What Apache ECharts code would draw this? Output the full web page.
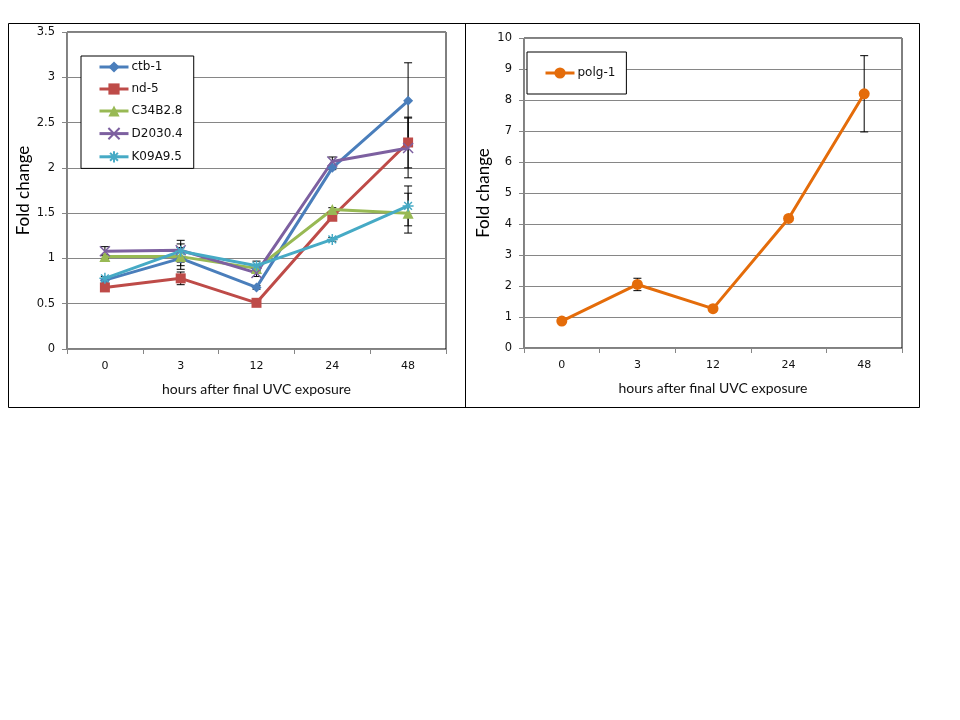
<!DOCTYPE html>
<html>
<head>
<meta charset="utf-8">
<script src="https://cdn.jsdelivr.net/npm/echarts@6/dist/echarts.min.js"></script>
<style>
html,body{margin:0;padding:0;background:#fff;}
#chart{width:960px;height:720px;}
</style>
</head>
<body>
<div id="chart"></div>
<script>
// ---- data ----
var categories = ['0', '3', '12', '24', '48'];
var xAxisTitle = 'hours after final UVC exposure';
var yAxisTitle = 'Fold change';

var ctb1 = [0.76, 1.00, 0.68, 2.00, 2.74];
var ctb1Err = [0.02, 0.12, 0.02, 0.02, 0.42];
var nd5 = [0.68, 0.78, 0.51, 1.46, 2.28];
var nd5Err = [0.02, 0.07, 0.02, 0.02, 0.28];
var c34b28 = [1.02, 1.02, 0.89, 1.54, 1.50];
var c34b28Err = [0.02, 0.10, 0.03, 0.02, 0.22];
var d20304 = [1.08, 1.09, 0.84, 2.07, 2.22];
var d20304Err = [0.05, 0.07, 0.04, 0.05, 0.33];
var k09a95 = [0.78, 1.08, 0.92, 1.21, 1.58];
var k09a95Err = [0.02, 0.12, 0.05, 0.02, 0.22];

var polg1 = [0.87, 2.05, 1.27, 4.18, 8.20];
var polg1Err = [0.02, 0.20, 0.02, 0.02, 1.23];

// ---- helpers ----
function errData(vals, errs) {
  return vals.map(function (v, i) { return [i, v - errs[i], v + errs[i]]; });
}
function renderErr(params, api) {
  var x = api.value(0);
  var lo = api.coord([x, api.value(1)]);
  var hi = api.coord([x, api.value(2)]);
  var w = 4;
  var st = { stroke: '#000', lineWidth: 1 };
  return {
    type: 'group',
    children: [
      { type: 'line', shape: { x1: lo[0], y1: lo[1], x2: hi[0], y2: hi[1] }, style: st },
      { type: 'line', shape: { x1: hi[0] - w, y1: hi[1], x2: hi[0] + w, y2: hi[1] }, style: st },
      { type: 'line', shape: { x1: lo[0] - w, y1: lo[1], x2: lo[0] + w, y2: lo[1] }, style: st }
    ]
  };
}
var X_PATH = 'path://M0,0L10,10M10,0L0,10';
var STAR_PATH = 'path://M5,0L5,10M0,5L10,5M1.5,1.5L8.5,8.5M8.5,1.5L1.5,8.5';

function lineSeries(name, data, color, symbol, size, gi, strokeOnly) {
  return {
    name: name, type: 'line', data: data,
    xAxisIndex: gi, yAxisIndex: gi,
    symbol: symbol, symbolSize: size, showSymbol: true,
    lineStyle: { color: color, width: 3 },
    itemStyle: strokeOnly ? { color: color, borderColor: color, borderWidth: 1.5 } : { color: color, borderWidth: 0 },
    z: 3, animation: false
  };
}
function errSeries(vals, errs, gi) {
  return {
    type: 'custom', xAxisIndex: gi, yAxisIndex: gi,
    data: errData(vals, errs), renderItem: renderErr, z: 2, silent: true, animation: false
  };
}

var gray = '#868686';
var labelFont = 'DejaVu Sans';
var titleFont = 'Lato';

function xAxis(gi) {
  return {
    gridIndex: gi, type: 'category', data: categories, boundaryGap: true,
    axisLine: { show: true, lineStyle: { color: gray, width: 1 } },
    axisTick: { show: true, alignWithLabel: false, length: 5, lineStyle: { color: gray } },
    axisLabel: { color: '#111', fontSize: 11, fontFamily: labelFont, margin: 12 },
    splitLine: { show: false },
    name: xAxisTitle, nameLocation: 'middle', nameGap: 33,
    nameTextStyle: { color: '#111', fontSize: 14, fontFamily: titleFont }
  };
}
function yAxis(gi, max, interval, gap) {
  return {
    gridIndex: gi, type: 'value', min: 0, max: max, interval: interval,
    axisLine: { show: true, lineStyle: { color: gray, width: 1 } },
    axisTick: { show: true, length: 5, lineStyle: { color: gray } },
    axisLabel: { color: '#111', fontSize: 11.5, fontFamily: labelFont, margin: 12 },
    splitLine: { show: true, lineStyle: { color: gray, width: 1 } },
    name: yAxisTitle, nameLocation: 'middle', nameGap: gap, nameRotate: 90,
    nameTextStyle: { color: '#000', fontSize: 17, fontFamily: titleFont }
  };
}

var colors = {
  ctb: '#4A7EBB', nd: '#BE4B48', c34: '#98B954', d20: '#7D60A0', k09: '#46AAC5', polg: '#E46C0A'
};

var option = {
  backgroundColor: '#fff',
  animation: false,
  graphic: [
    { type: 'rect', shape: { x: 8.5, y: 23.5, width: 911, height: 384 }, style: { fill: 'none', stroke: '#000', lineWidth: 1 }, silent: true },
    { type: 'line', shape: { x1: 465.5, y1: 23.5, x2: 465.5, y2: 407.5 }, style: { stroke: '#000', lineWidth: 1 }, silent: true }
  ],
  grid: [
    { left: 67, top: 32, width: 379, height: 317, show: true, borderColor: '#000', borderWidth: 1, backgroundColor: 'transparent' },
    { left: 524, top: 38, width: 378, height: 310, show: true, borderColor: '#000', borderWidth: 1, backgroundColor: 'transparent' }
  ],
  xAxis: [xAxis(0), xAxis(1)],
  yAxis: [yAxis(0, 3.5, 0.5, 35), yAxis(1, 10, 1, 32)],
  legend: [
    {
      data: ['ctb-1', 'nd-5', 'C34B2.8', 'D2030.4', 'K09A9.5'],
      orient: 'vertical', left: 81, top: 56,
      itemWidth: 29, itemHeight: 14, itemGap: 10,
      padding: [5, 11, 5, 17],
      borderColor: '#000', borderWidth: 1, backgroundColor: '#fff',
      lineStyle: { width: 3 },
      textStyle: { color: '#111', fontSize: 12, fontFamily: labelFont, padding: [0, 0, 0, -2] },
      selectedMode: false
    },
    {
      data: ['polg-1'],
      orient: 'vertical', left: 527, top: 52,
      itemWidth: 29, itemHeight: 14, itemGap: 10,
      padding: [15, 11, 15, 17],
      borderColor: '#000', borderWidth: 1, backgroundColor: '#fff',
      lineStyle: { width: 3 },
      textStyle: { color: '#111', fontSize: 12, fontFamily: labelFont, padding: [0, 0, 0, -2] },
      selectedMode: false
    }
  ],
  series: [
    lineSeries('ctb-1', ctb1, colors.ctb, 'diamond', 10, 0, false),
    lineSeries('nd-5', nd5, colors.nd, 'rect', 10, 0, false),
    lineSeries('C34B2.8', c34b28, colors.c34, 'triangle', 11, 0, false),
    lineSeries('D2030.4', d20304, colors.d20, X_PATH, 10, 0, true),
    lineSeries('K09A9.5', k09a95, colors.k09, STAR_PATH, 11, 0, true),
    errSeries(ctb1, ctb1Err, 0),
    errSeries(nd5, nd5Err, 0),
    errSeries(c34b28, c34b28Err, 0),
    errSeries(d20304, d20304Err, 0),
    errSeries(k09a95, k09a95Err, 0),
    lineSeries('polg-1', polg1, colors.polg, 'circle', 11, 1, false),
    errSeries(polg1, polg1Err, 1)
  ]
};

var chart = echarts.init(document.getElementById('chart'), null, { renderer: 'canvas' });
chart.setOption(option);
</script>
</body>
</html>
